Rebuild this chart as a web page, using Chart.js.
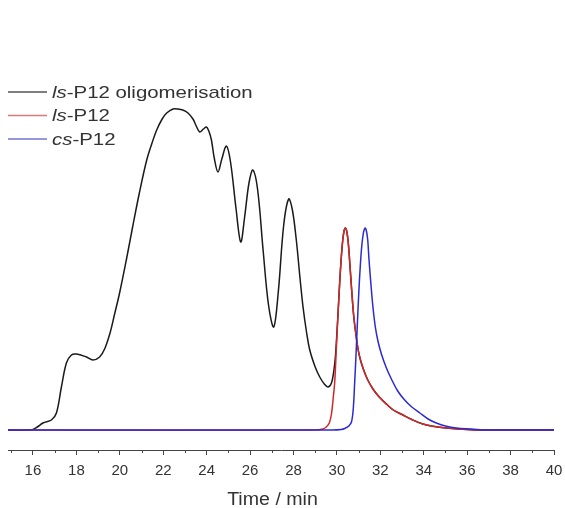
<!DOCTYPE html>
<html>
<head>
<meta charset="utf-8">
<script src="https://cdn.jsdelivr.net/npm/chart.js@4/dist/chart.umd.min.js"></script>
<style>
    html, body { margin: 0; padding: 0; background: #fff; }
</style>
</head>
<body>
<canvas id="chart" width="565" height="508"></canvas>
<script>
// Values: time in min, signal in arbitrary units
const oligoTime = [14.85, 15.9, 16.2, 16.46, 16.85, 17.08, 17.31, 17.54, 17.77, 18.0, 18.46, 18.76, 19.07, 19.3, 19.55,
    19.75, 19.99, 20.3, 20.59, 20.9, 21.24, 21.5, 21.7, 21.95, 22.16, 22.45, 22.68, 22.9, 23.14, 23.37, 23.52, 23.68,
    23.85, 23.99, 24.1, 24.22, 24.35, 24.52, 24.7, 24.91, 25.1, 25.35, 25.57, 25.75, 25.95, 26.13, 26.35, 26.6, 26.85,
    27.09, 27.3, 27.55, 27.78, 27.95, 28.13, 28.3, 28.44, 28.6, 28.75, 29.0, 29.21, 29.42, 29.59, 29.75, 29.85, 29.93,
    30.0, 30.05, 30.13, 30.2, 30.27, 30.33, 30.39, 30.45, 30.52, 30.6, 30.68, 30.77, 30.85, 30.95, 31.05, 31.2, 31.4,
    31.66, 31.95, 32.28, 32.6, 33.04, 33.5, 33.96, 34.5, 35.04, 35.6, 36.5, 40];
const oligoSignal = [0, 0, 3, 7, 10, 17, 43, 67, 75, 76, 73, 70, 73, 81, 97,
    115, 137, 170, 203, 237, 270, 288, 300, 311, 317, 321, 321, 320, 317, 311, 304, 298,
    301, 303, 299, 290, 272, 258, 271, 284, 268, 222, 188, 213, 247, 260, 240, 180, 125,
    103, 138, 205, 231, 220, 190, 152, 123, 98, 80, 63, 53, 46, 43, 47, 58, 73,
    97, 116, 148, 172, 190, 199, 202, 199, 188, 165, 140, 115, 100, 84, 73, 62, 51,
    41, 33, 26, 20, 15, 10, 6, 3.5, 2, 1, 0, 0];

const lsTime = [14.85, 29.0, 29.35, 29.51, 29.65, 29.75, 29.83, 29.9, 29.97, 30.05, 30.13, 30.2, 30.27, 30.33, 30.39,
    30.45, 30.52, 30.6, 30.68, 30.77, 30.85, 30.95, 31.05, 31.2, 31.4, 31.66, 31.95, 32.28, 32.6, 33.04, 33.5, 33.96,
    34.5, 35.04, 35.6, 36.5, 40];
const lsSignal = [0, 0, 1, 3, 7, 16, 32, 48, 80, 115, 148, 172, 190, 199, 202,
    199, 188, 165, 140, 115, 100, 84, 73, 62, 51, 41, 33, 26, 20, 15, 10, 6,
    3.5, 2, 1, 0, 0];

const csTime = [14.85, 29.8, 30.2, 30.36, 30.55, 30.67, 30.75, 30.82, 30.88, 30.94, 31.01, 31.08, 31.15, 31.22, 31.27,
    31.31, 31.36, 31.42, 31.48, 31.57, 31.66, 31.77, 31.89, 32.05, 32.28, 32.51, 32.8, 33.12, 33.45, 33.82, 34.2, 34.58,
    35.0, 35.5, 36.2, 37.0, 40];
const csSignal = [0, 0, 0.5, 1.5, 4, 8, 20, 48, 75, 105, 138, 165, 185, 197, 201,
    202, 199, 190, 170, 145, 123, 103, 89, 76, 62, 51, 39, 30, 23, 17, 11, 7,
    4, 2, 1, 0, 0];

const majorTicks = [16, 18, 20, 22, 24, 26, 28, 30, 32, 34, 36, 38, 40];
const minorTicks = [15, 17, 19, 21, 23, 25, 27, 29, 31, 33, 35, 37, 39];

// legend entries: italic prefix + plain rest
const legendPrefixes = ['ls', 'ls', 'cs'];
const legendNames = ['-P12 oligomerisation', '-P12', '-P12'];
const seriesColors = ['#1a1a1a', '#d22828', '#2b2bd2'];
const legendColors = ['#555555', '#d77a7a', '#7373d0'];

const axisColor = '#444444';
const textColor = '#333333';
const fontName = '"Liberation Sans", Arial, sans-serif';

function toPoints(xs, ys) {
    return xs.map((x, i) => ({ x: x, y: ys[i] }));
}

// text in the picture is a bit wider than normal, so stretch it
function drawWideText(ctx, parts, x, y, size, stretch) {
    ctx.save();
    ctx.translate(x, y);
    ctx.scale(stretch, 1);
    let cx = 0;
    parts.forEach(p => {
        ctx.font = (p.italic ? 'italic ' : '') + size + 'px ' + fontName;
        ctx.fillText(p.text, cx, 0);
        cx += ctx.measureText(p.text).width;
    });
    ctx.restore();
    return cx * stretch;
}

function measureWide(ctx, text, size, stretch) {
    ctx.save();
    ctx.font = size + 'px ' + fontName;
    const w = ctx.measureText(text).width * stretch;
    ctx.restore();
    return w;
}

const extrasPlugin = {
    id: 'extras',
    afterDraw(chart) {
        const ctx = chart.ctx;
        const xScale = chart.scales.x;
        const bottom = chart.chartArea.bottom;

        ctx.save();
        // minor ticks
        ctx.strokeStyle = axisColor;
        ctx.lineWidth = 1;
        minorTicks.forEach(v => {
            const px = Math.round(xScale.getPixelForValue(v)) + 0.5;
            ctx.beginPath();
            ctx.moveTo(px, bottom);
            ctx.lineTo(px, bottom + 3);
            ctx.stroke();
        });

        // legend
        ctx.fillStyle = textColor;
        ctx.textBaseline = 'alphabetic';
        legendNames.forEach((name, i) => {
            const ly = 92 + i * 23.5;
            ctx.strokeStyle = legendColors[i];
            ctx.lineWidth = 1.3;
            ctx.beginPath();
            ctx.moveTo(8, ly);
            ctx.lineTo(47, ly);
            ctx.stroke();
            drawWideText(ctx, [{ text: legendPrefixes[i], italic: true }, { text: name }], 52, ly + 5.5, 17, 1.2);
        });

        // axis title
        const title = 'Time / min';
        const tw = measureWide(ctx, title, 17.5, 1.12);
        drawWideText(ctx, [{ text: title }], 272.5 - tw / 2, 505, 17.5, 1.12);
        ctx.restore();
    }
};

const lineStyle = {
    borderWidth: 1.5,
    pointRadius: 0,
    tension: 0.35,
    fill: false
};

new Chart(document.getElementById('chart'), {
    type: 'line',
    data: {
        datasets: [
            { ...lineStyle, label: 'cs-P12', data: toPoints(csTime, csSignal), borderColor: seriesColors[2], order: 0 },
            { ...lineStyle, label: 'ls-P12', data: toPoints(lsTime, lsSignal), borderColor: seriesColors[1], order: 1 },
            { ...lineStyle, label: 'ls-P12 oligomerisation', data: toPoints(oligoTime, oligoSignal), borderColor: seriesColors[0], order: 2 }
        ]
    },
    options: {
        responsive: false,
        animation: false,
        layout: { padding: { left: 8, right: 11, top: 30, bottom: 0 } },
        plugins: {
            legend: { display: false },
            tooltip: { enabled: false }
        },
        scales: {
            x: {
                type: 'linear',
                min: 14.85,
                max: 40,
                afterBuildTicks: scale => {
                    scale.ticks = majorTicks.map(v => ({ value: v }));
                },
                afterFit: scale => {
                    scale.height = 58;
                    scale.paddingLeft = 0;
                    scale.paddingRight = 0;
                },
                grid: {
                    display: true,
                    drawOnChartArea: false,
                    drawTicks: true,
                    tickLength: 5,
                    color: axisColor
                },
                border: { display: true, color: axisColor, width: 1 },
                ticks: {
                    color: textColor,
                    padding: 7,
                    maxRotation: 0,
                    autoSkip: false,
                    font: { family: fontName, size: 15 }
                }
            },
            y: {
                display: false,
                min: -20,
                max: 400
            }
        }
    },
    plugins: [extrasPlugin]
});
</script>
</body>
</html>
